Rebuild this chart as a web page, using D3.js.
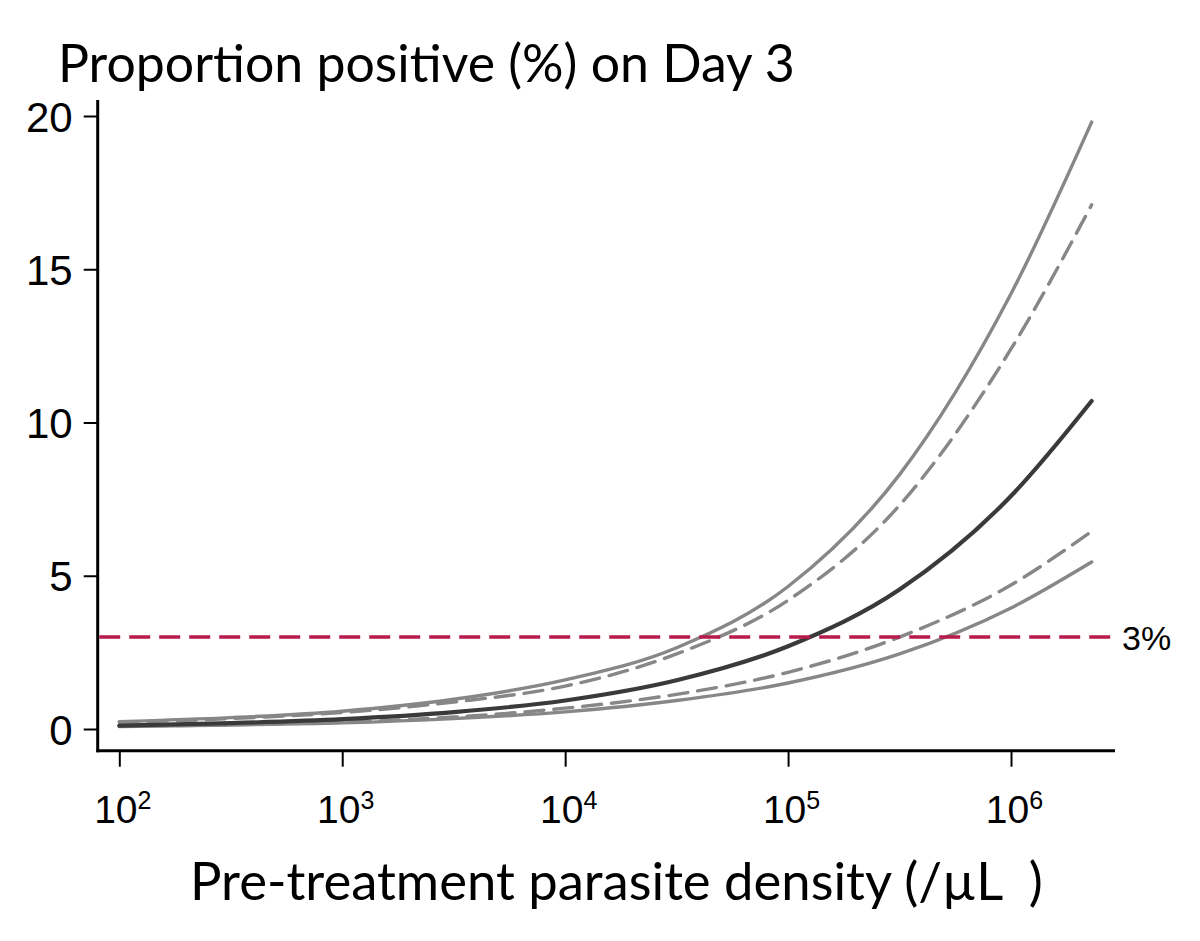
<!DOCTYPE html>
<html>
<head>
<meta charset="utf-8">
<script src="https://cdn.jsdelivr.net/npm/d3@7"></script>
<style>
  html, body { margin: 0; padding: 0; background: #fff; }
  svg { display: block; }
</style>
</head>
<body>
<svg id="chart" width="1200" height="941"></svg>
<script>
// ---------------- data ----------------
const density = [100, 316, 1000, 3162, 10000, 31623, 100000, 316228, 1000000, 2300000];
const estimate   = [0.11, 0.19, 0.32, 0.55, 0.93, 1.59, 2.70, 4.55, 7.6, 10.7];
const upperSolid = [0.24, 0.37, 0.58, 0.97, 1.60, 2.65, 4.65, 8.3, 14.2, 19.8];
const upperDash  = [0.22, 0.34, 0.54, 0.88, 1.40, 2.45, 4.20, 7.3, 12.4, 17.1];
const lowerDash  = [0.09, 0.14, 0.22, 0.39, 0.68, 1.13, 1.85, 3.0, 4.7, 6.45];
const lowerSolid = [0.08, 0.13, 0.20, 0.34, 0.56, 0.93, 1.50, 2.45, 3.95, 5.45];
const yTicks = [0, 5, 10, 15, 20];
const xTicks = [1e2, 1e3, 1e4, 1e5, 1e6];
const xTickExp = ["2", "3", "4", "5", "6"];
const threshold = 3;
const thresholdLabel = "3%";
const titleText = "Proportion positive (%) on Day 3";
const xLabelText = "Pre-treatment parasite density (/µL  )";

// ---------------- layout ----------------
const svg = d3.select("#chart");
const axisX = 97.7, axisY = 750.7, axisRight = 1115, axisTop = 100;
const x = d3.scaleLog().domain([1e2, 1e6]).range([119.3, 1011]);
const y = d3.scaleLinear().domain([0, 20]).range([729, 116]);

const grey = "#878787", dark = "#3a3a3a", red = "#b81a4a";
const tickFont = "'Liberation Sans', Arial, Helvetica, sans-serif";
const labelFont = "Lato, 'Open Sans', sans-serif";

// axis lines
svg.append("line").attr("x1", axisX).attr("x2", axisX).attr("y1", axisTop).attr("y2", axisY + 1.5)
  .attr("stroke", "#000").attr("stroke-width", 3);
svg.append("line").attr("x1", axisX - 1.5).attr("x2", axisRight).attr("y1", axisY).attr("y2", axisY)
  .attr("stroke", "#000").attr("stroke-width", 3);

// y axis
const gy = svg.append("g").attr("transform", `translate(${axisX},0)`)
  .call(d3.axisLeft(y).tickValues(yTicks).tickSize(14).tickPadding(11).tickFormat(d3.format("d")));
gy.select(".domain").remove();
gy.selectAll(".tick line").attr("stroke", "#000").attr("stroke-width", 2);
gy.selectAll(".tick text").attr("font-family", tickFont).attr("font-size", 42).attr("fill", "#000")
  .attr("dy", "0.36em");

// x axis
const gx = svg.append("g").attr("transform", `translate(0,${axisY})`)
  .call(d3.axisBottom(x).tickValues(xTicks).tickSize(16).tickFormat(() => ""));
gx.select(".domain").remove();
gx.selectAll(".tick line").attr("stroke", "#000").attr("stroke-width", 2);
gx.selectAll(".tick text").each(function(d, i) {
  const t = d3.select(this);
  t.attr("y", 0).attr("dy", null).attr("font-family", tickFont).attr("fill", "#000")
    .attr("text-anchor", "middle").attr("transform", "translate(3,72)");
  t.append("tspan").attr("font-size", 39).text("10");
  t.append("tspan").attr("font-size", 25).attr("dy", -14).text(xTickExp[i]);
});

// curves
const line = d3.line().x(d => x(d[0])).y(d => y(d[1])).curve(d3.curveMonotoneX);
const series = [
  { v: lowerSolid, color: grey, w: 3.4, dash: null },
  { v: upperSolid, color: grey, w: 3.4, dash: null },
  { v: lowerDash,  color: grey, w: 3.4, dash: "19,10" },
  { v: upperDash,  color: grey, w: 3.4, dash: "19,10" },
  { v: estimate,   color: dark, w: 4.2, dash: null }
];
series.forEach(s => {
  svg.append("path")
    .datum(density.map((d, i) => [d, s.v[i]]))
    .attr("d", line)
    .attr("fill", "none")
    .attr("stroke", s.color)
    .attr("stroke-width", s.w)
    .attr("stroke-linecap", "round")
    .attr("stroke-dasharray", s.dash);
});

// threshold line
svg.append("line").attr("x1", axisX + 1.5).attr("x2", axisRight).attr("y1", y(threshold)).attr("y2", y(threshold))
  .attr("stroke", red).attr("stroke-width", 3.4).attr("stroke-dasharray", "21,9");
svg.append("text").attr("x", 1122).attr("y", y(threshold)).attr("dy", "0.38em")
  .attr("font-family", tickFont).attr("font-size", 34).attr("fill", "#000").text(thresholdLabel);

// title & x label, fitted to width
function fitText(txt, xLeft, xRight, baseline) {
  const t = svg.append("text").attr("x", xLeft).attr("y", baseline)
    .attr("font-family", labelFont).attr("font-size", 50).attr("fill", "#000")
    .style("white-space", "pre").text(txt);
  const w = t.node().getBBox().width;
  t.attr("font-size", 50 * (xRight - xLeft) / w);
  return t;
}
fitText(titleText, 58, 795, 82);
fitText(xLabelText, 190, 1043, 900);
</script>
</body>
</html>
